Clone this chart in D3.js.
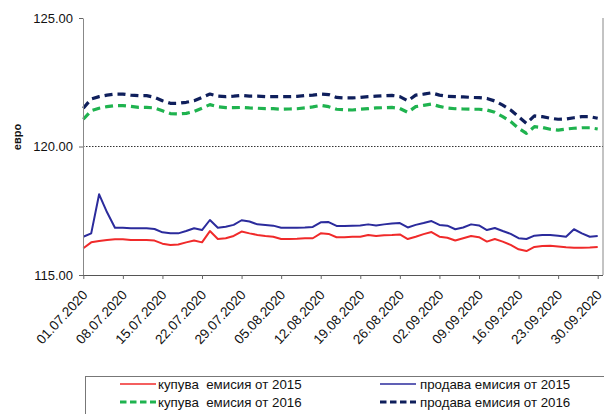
<!DOCTYPE html>
<html>
<head>
<meta charset="utf-8">
<script src="https://cdn.jsdelivr.net/npm/d3@7"></script>
<style>
  html, body { margin: 0; padding: 0; background: #fff; }
  svg { display: block; font-family: "Liberation Sans", Arial, sans-serif; }
</style>
</head>
<body>
<svg id="chart" width="604" height="414"></svg>
<script>
// ---- data ----
const dates = [
  "01.07.2020","02.07.2020","03.07.2020","06.07.2020","07.07.2020","08.07.2020","09.07.2020","10.07.2020",
  "13.07.2020","14.07.2020","15.07.2020","16.07.2020","17.07.2020","20.07.2020","21.07.2020","22.07.2020",
  "23.07.2020","24.07.2020","27.07.2020","28.07.2020","29.07.2020","30.07.2020","31.07.2020","03.08.2020",
  "04.08.2020","05.08.2020","06.08.2020","07.08.2020","10.08.2020","11.08.2020","12.08.2020","13.08.2020",
  "14.08.2020","17.08.2020","18.08.2020","19.08.2020","20.08.2020","21.08.2020","24.08.2020","25.08.2020",
  "26.08.2020","27.08.2020","28.08.2020","31.08.2020","01.09.2020","02.09.2020","03.09.2020","04.09.2020",
  "07.09.2020","08.09.2020","09.09.2020","10.09.2020","11.09.2020","14.09.2020","15.09.2020","16.09.2020",
  "17.09.2020","18.09.2020","21.09.2020","22.09.2020","23.09.2020","24.09.2020","25.09.2020","28.09.2020",
  "29.09.2020","30.09.2020"
];

const buy2015 = [
  116.04,116.27,116.32,116.36,116.39,116.39,116.36,116.36,116.36,116.34,116.22,116.17,116.19,116.27,116.34,116.27,
  116.71,116.40,116.43,116.52,116.69,116.62,116.56,116.52,116.49,116.40,116.40,116.41,116.43,116.43,116.62,116.60,
  116.47,116.47,116.49,116.49,116.56,116.52,116.55,116.56,116.58,116.40,116.49,116.59,116.67,116.49,116.45,116.34,
  116.43,116.52,116.47,116.30,116.40,116.30,116.17,116.00,115.93,116.09,116.13,116.14,116.11,116.08,116.06,116.06,
  116.07,116.09
];

const sell2015 = [
  116.49,116.62,118.14,117.44,116.84,116.84,116.82,116.82,116.82,116.79,116.66,116.62,116.62,116.71,116.82,116.75,
  117.14,116.84,116.88,116.95,117.13,117.08,116.97,116.95,116.92,116.84,116.84,116.84,116.85,116.87,117.05,117.06,
  116.91,116.91,116.92,116.93,116.97,116.93,116.97,117.00,117.02,116.85,116.95,117.02,117.10,116.95,116.92,116.78,
  116.85,116.97,116.93,116.75,116.83,116.71,116.60,116.43,116.40,116.53,116.56,116.56,116.53,116.49,116.78,116.62,
  116.49,116.52
];

const buy2016 = [
  121.06,121.39,121.49,121.55,121.59,121.59,121.56,121.52,121.52,121.50,121.39,121.28,121.27,121.29,121.36,121.49,
  121.63,121.55,121.51,121.51,121.52,121.50,121.49,121.47,121.47,121.45,121.46,121.47,121.50,121.54,121.60,121.55,
  121.45,121.43,121.42,121.45,121.47,121.50,121.51,121.52,121.48,121.33,121.55,121.60,121.65,121.56,121.50,121.47,
  121.46,121.45,121.45,121.42,121.33,121.16,120.97,120.71,120.51,120.77,120.74,120.67,120.64,120.68,120.71,120.73,
  120.73,120.68
];

const sell2016 = [
  121.49,121.85,121.94,122.00,122.04,122.04,122.00,121.98,121.98,121.91,121.78,121.68,121.68,121.72,121.78,121.91,
  122.04,121.96,121.94,121.96,121.99,121.96,121.96,121.94,121.94,121.94,121.94,121.95,121.98,122.00,122.04,122.02,
  121.91,121.89,121.89,121.91,121.94,121.96,121.98,121.99,121.94,121.78,122.00,122.04,122.09,122.00,121.95,121.94,
  121.93,121.91,121.90,121.87,121.77,121.61,121.42,121.16,120.90,121.19,121.16,121.10,121.06,121.07,121.12,121.16,
  121.16,121.10
];

const yTicks = [115, 120, 125];
const yTitle = "евро";
const legendLabels = ["купува  емисия от 2015", "продава емисия от 2015", "купува  емисия от 2016", "продава емисия от 2016"];

// ---- chart ----
const svg = d3.select("#chart");
const plotL = 83, plotR = 603, plotT = 18, plotB = 275;

const x = d3.scalePoint().domain(dates).range([83.3, 597.7]);
const y = d3.scaleLinear().domain([115, 125]).range([plotB, plotT]);

const series = [
  { values: sell2016, color: "#0f1f5c", width: 3.2, dash: "8,5", label: legendLabels[3] },
  { values: buy2016,  color: "#1fb34f", width: 3.2, dash: "8,5", label: legendLabels[2] },
  { values: sell2015, color: "#2b2b9c", width: 2,   dash: null,  label: legendLabels[1] },
  { values: buy2015,  color: "#f02a2a", width: 2,   dash: null,  label: legendLabels[0] }
];

// reference line at 120
svg.append("line")
  .attr("x1", plotL).attr("x2", plotR)
  .attr("y1", y(120)).attr("y2", y(120))
  .attr("stroke", "#333").attr("stroke-width", 1)
  .attr("stroke-dasharray", "1.5,1.5");

// right border
svg.append("line")
  .attr("x1", plotR).attr("x2", plotR).attr("y1", plotT).attr("y2", plotB)
  .attr("stroke", "#888").attr("stroke-width", 1);

// lines
const line = d3.line()
  .x((d, i) => x(dates[i]))
  .y(d => y(d));

series.forEach(s => {
  svg.append("path")
    .datum(s.values)
    .attr("d", line)
    .attr("fill", "none")
    .attr("stroke", s.color)
    .attr("stroke-width", s.width)
    .attr("stroke-linejoin", "round")
    .attr("stroke-dasharray", s.dash);
});

// y axis
const yAxis = svg.append("g")
  .attr("transform", `translate(${plotL},0)`)
  .call(d3.axisLeft(y).tickValues(yTicks).tickFormat(d3.format(".2f")).tickSize(4).tickSizeOuter(0));
yAxis.select(".domain").attr("stroke", "#888");
yAxis.selectAll(".tick line").attr("stroke", "#666");
yAxis.selectAll(".tick text")
  .attr("font-size", 13).attr("fill", "#111")
  .attr("font-family", "'Liberation Sans', Arial, sans-serif")
  .attr("x", -10);

// x axis
const xAxis = svg.append("g")
  .attr("transform", `translate(0,${plotB})`)
  .call(d3.axisBottom(x).tickValues(dates.filter((d, i) => i % 5 === 0)).tickSize(4).tickSizeOuter(0));
xAxis.select(".domain").attr("stroke", "#555").attr("d", `M${plotL},0.5H${plotR}`);
xAxis.selectAll(".tick line").attr("stroke", "#666");
xAxis.selectAll(".tick text")
  .attr("font-size", 13.5).attr("fill", "#111")
  .attr("font-family", "'Liberation Sans', Arial, sans-serif")
  .attr("text-anchor", "end")
  .attr("dy", 0)
  .attr("transform", "translate(4.5,20.5) rotate(-47)")
  .attr("y", 0).attr("x", 0);

// y title
svg.append("text")
  .attr("transform", `translate(21,137) rotate(-90)`)
  .attr("text-anchor", "middle")
  .attr("font-size", 11).attr("font-weight", "bold").attr("fill", "#111")
  .text(yTitle);

// legend
const lg = svg.append("g");
lg.append("rect")
  .attr("x", 85.5).attr("y", 376.5).attr("width", 530).attr("height", 60)
  .attr("fill", "#fff").attr("stroke", "#777").attr("stroke-width", 1);

const legendItems = [
  { s: series[3], lx: 120, tx: 158, ty: 384 },
  { s: series[2], lx: 380, tx: 420, ty: 384 },
  { s: series[1], lx: 120, tx: 158, ty: 402 },
  { s: series[0], lx: 380, tx: 420, ty: 402 }
];
legendItems.forEach(it => {
  lg.append("line")
    .attr("x1", it.lx).attr("x2", it.lx + 36)
    .attr("y1", it.ty).attr("y2", it.ty)
    .attr("stroke", it.s.color)
    .attr("stroke-width", it.s.dash ? 3.2 : 1.6)
    .attr("stroke-dasharray", it.s.dash ? "6.5,3.5" : null);
  lg.append("text")
    .attr("x", it.tx).attr("y", it.ty).attr("dy", "0.35em")
    .attr("font-size", 13.3).attr("fill", "#111")
    .attr("xml:space", "preserve")
    .style("white-space", "pre")
    .text(it.s.label);
});
</script>
</body>
</html>
